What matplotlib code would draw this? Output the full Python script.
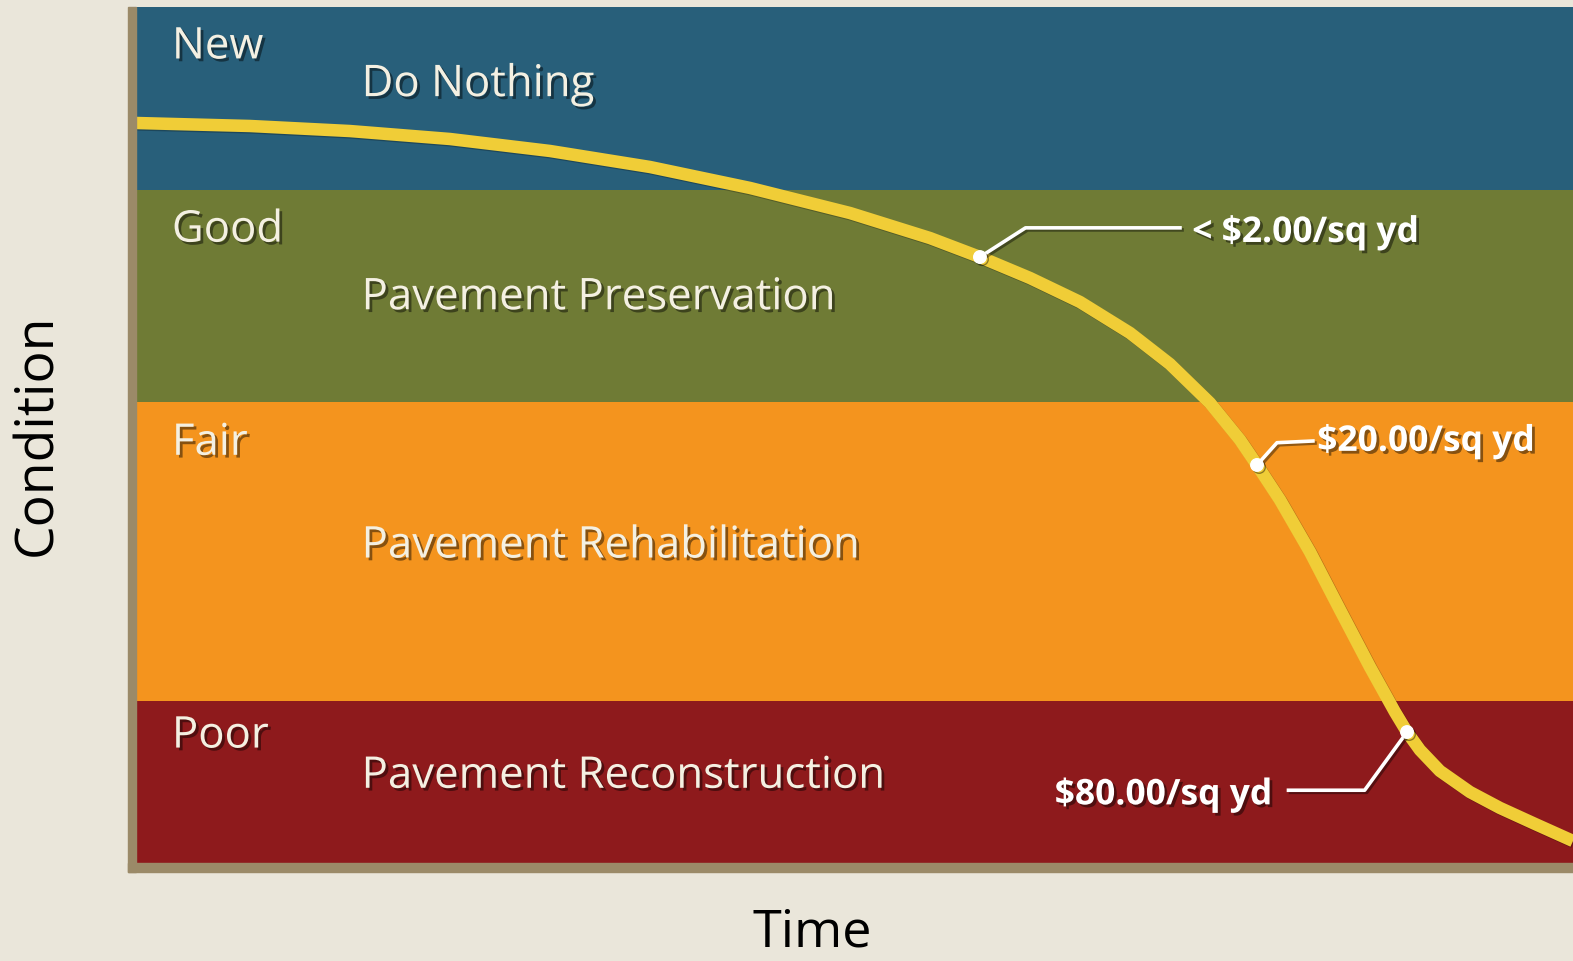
import matplotlib
matplotlib.use("Agg")
import matplotlib.pyplot as plt
import matplotlib.patheffects as pe
from matplotlib.patches import Rectangle

# condition bands (top of each band, 0-100 condition scale)
band_names = ["New", "Good", "Fair", "Poor"]
band_actions = ["Do Nothing", "Pavement Preservation",
                "Pavement Rehabilitation", "Pavement Reconstruction"]
band_tops = [100.0, 78.6, 53.9, 18.9]
band_bottoms = [78.6, 53.9, 18.9, 0.0]

# deterioration curve (time 0-100, condition 0-100)
curve_time = [0, 7.93, 14.89, 21.85, 28.81, 35.77, 42.73, 49.69, 55.25, 58.73,
              62.21, 65.69, 69.17, 71.95, 74.74, 76.83, 78.01, 79.61, 81.70,
              83.79, 85.87, 87.61, 88.45, 89.35, 90.74, 92.83, 94.92, 97.36, 100]
curve_cond = [86.45, 86.10, 85.51, 84.58, 83.18, 81.31, 78.86, 75.93, 73.01, 70.79,
              68.34, 65.54, 61.92, 58.29, 53.74, 49.42, 46.50, 42.41, 36.33,
              29.56, 22.90, 17.64, 15.30, 13.20, 10.75, 8.29, 6.43, 4.56, 2.57]

# treatment costs and where they sit on the curve
cost_labels = ["< $2.00/sq yd", "$20.00/sq yd", "$80.00/sq yd"]
cost_time = [58.73, 78.01, 88.45]
cost_cond = [70.79, 46.50, 15.30]

band_colors = ["#285F7A", "#6F7B35", "#F4941E", "#8E1A1C"]
bg = "#EAE6DA"
tan = "#9B8A68"
yellow = "#F0CD37"
label_col = "#F4F0E2"

W, H = 1573, 961
fig = plt.figure(figsize=(W / 100, H / 100), dpi=100, facecolor=bg)

x0, x1 = 136, 1573
y0, y1 = 7, 863
ax = fig.add_axes([x0 / W, 1 - y1 / H, (x1 - x0) / W, (y1 - y0) / H])
ax.set_xlim(0, 100)
ax.set_ylim(0, 100)
ax.axis("off")

# frame: tan bars on the left and along the bottom
fig.patches.append(Rectangle((128 / W, 1 - 872 / H), 8 / W, (872 - 7) / H,
                             transform=fig.transFigure, color=tan, zorder=0))
fig.patches.append(Rectangle((128 / W, 1 - 872 / H), (W - 128) / W, 9 / H,
                             transform=fig.transFigure, color=tan, zorder=0))

for top, bot, col in zip(band_tops, band_bottoms, band_colors):
    ax.axhspan(bot, top, color=col, lw=0, zorder=1)

shadow = [pe.withSimplePatchShadow(offset=(2, -2), shadow_rgbFace="black", alpha=0.45)]
font = "Open Sans"

name_y = [95.3, 73.9, 49.0, 14.8]
action_y = [90.9, 66.0, 37.0, 10.1]
for name, act, ny, ay in zip(band_names, band_actions, name_y, action_y):
    ax.text(2.5, ny, name, color=label_col, fontsize=31.5, family=font,
            va="center", ha="left", path_effects=shadow, zorder=3)
    ax.text(15.7, ay, act, color=label_col, fontsize=31.5, family=font,
            va="center", ha="left", path_effects=shadow, zorder=3)

ax.plot(curve_time, curve_cond, color=yellow, lw=9, solid_capstyle="butt",
        solid_joinstyle="round", zorder=4,
        path_effects=[pe.SimpleLineShadow(offset=(1, -1), alpha=0.25), pe.Normal()])

# leader lines from each cost point to its label
leaders = [
    ([cost_time[0], 61.9, 72.65], [cost_cond[0], 74.2, 74.2]),
    ([cost_time[1], 79.4, 81.9], [cost_cond[1], 49.1, 49.3]),
    ([cost_time[2], 85.5, 80.2], [cost_cond[2], 8.5, 8.5]),
]
line_shadow = [pe.SimpleLineShadow(offset=(1.5, -1.5), alpha=0.4), pe.Normal()]
for lx, ly in leaders:
    ax.plot(lx, ly, color="white", lw=2.6, zorder=5, path_effects=line_shadow)
ax.plot(cost_time, cost_cond, "o", color="white", ms=9, mec="white", zorder=6,
        path_effects=line_shadow)

text_pos = [(73.5, 73.6, "left"), (82.2, 49.2, "left"), (79.05, 7.9, "right")]
for lab, (tx, ty, ha) in zip(cost_labels, text_pos):
    ax.text(tx, ty, lab, color="white", fontsize=25.5, fontweight="bold",
            family=font, ha=ha, va="center", path_effects=shadow, zorder=6)

fig.text(38 / W, 1 - 435 / H, "Condition", rotation=90, fontsize=38.5,
         family=font, color="black", ha="center", va="center")
fig.text(812 / W, 1 - 933 / H, "Time", fontsize=37.5, family=font,
         color="black", ha="center", va="center")

fig.savefig("out.png", dpi=100, facecolor=bg)
